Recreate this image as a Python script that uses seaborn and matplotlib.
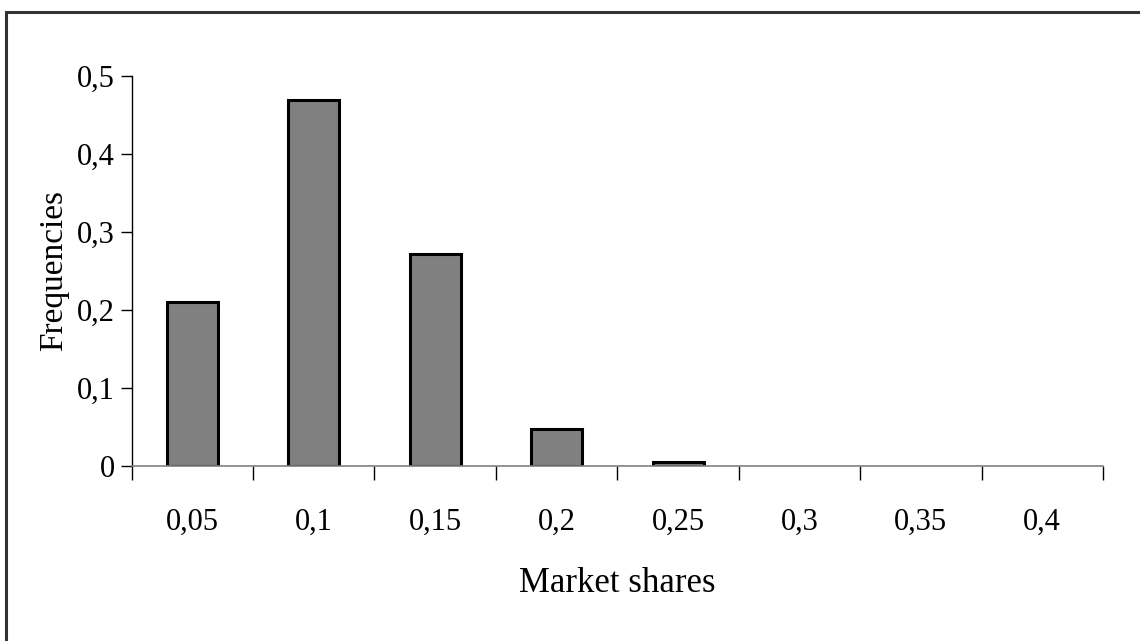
import numpy as np
import pandas as pd
import matplotlib
matplotlib.use("Agg")
import matplotlib.pyplot as plt
import seaborn as sns
from matplotlib.patches import Rectangle

shares = ['0,05', '0,1', '0,15', '0,2', '0,25', '0,3', '0,35', '0,4']
freqs = [0.21, 0.469, 0.271, 0.047, 0.005, 0.0, 0.0, 0.0]
yticks = [0, 0.1, 0.2, 0.3, 0.4, 0.5]
ytick_labels = ['0', '0,1', '0,2', '0,3', '0,4', '0,5']

df = pd.DataFrame({'share': shares, 'freq': freqs})

sns.set_style('white', {'text.color': 'black', 'axes.labelcolor': 'black',
                        'xtick.color': 'black', 'ytick.color': 'black'})
plt.rcParams['font.family'] = ['Liberation Serif', 'DejaVu Serif']

fig = plt.figure(figsize=(11.4, 6.41), dpi=100)
ax = fig.add_axes([0.1155, 0.2735, 0.852, 0.6084])

sns.barplot(data=df, x='share', y='freq', color='#808080', saturation=1,
            width=0.42, edgecolor='black', linewidth=2.2, ax=ax)
# skip the empty bars so no edge line is drawn on the axis
for p, v in zip(ax.patches, freqs):
    if v == 0:
        p.set_visible(False)

ax.set_xlim(-0.5, len(shares) - 0.5)
ax.set_ylim(0, 0.5)
ax.set_yticks(yticks)
ax.set_yticklabels(ytick_labels, fontsize=22)

# category labels sit between the tick marks
ax.set_xticks(np.arange(-1, len(shares)) + 0.5, minor=False)
ax.set_xticklabels([])
ax.set_xticks(np.arange(len(shares)), minor=True)
ax.set_xticklabels(shares, minor=True, fontsize=22)
ax.tick_params(axis='x', which='minor', bottom=False, length=0, pad=30)
ax.tick_params(axis='x', which='major', bottom=True, length=10, width=1,
               color='black', direction='out')
ax.tick_params(axis='y', left=True, length=8, width=1, color='black',
               direction='out', pad=4)

for s in ['top', 'right']:
    ax.spines[s].set_visible(False)
ax.spines['left'].set_color('black')
ax.spines['left'].set_linewidth(1)
ax.spines['bottom'].set_color('#808080')
ax.spines['bottom'].set_linewidth(1.2)

ax.set_ylabel('Frequencies', fontsize=24, color='black')
ax.yaxis.set_label_coords(-0.064, 0.5)
ax.set_xlabel('Market shares', fontsize=25, labelpad=22, color='black')

# outer chart frame (cut off at right and bottom like the original)
fig.patches.append(Rectangle((5.5 / 1140, -0.2), 1.2, 1.2 - 11.5 / 641,
                             transform=fig.transFigure, fill=False,
                             edgecolor='#333333', linewidth=2.2))

fig.savefig('out.png', dpi=100)
